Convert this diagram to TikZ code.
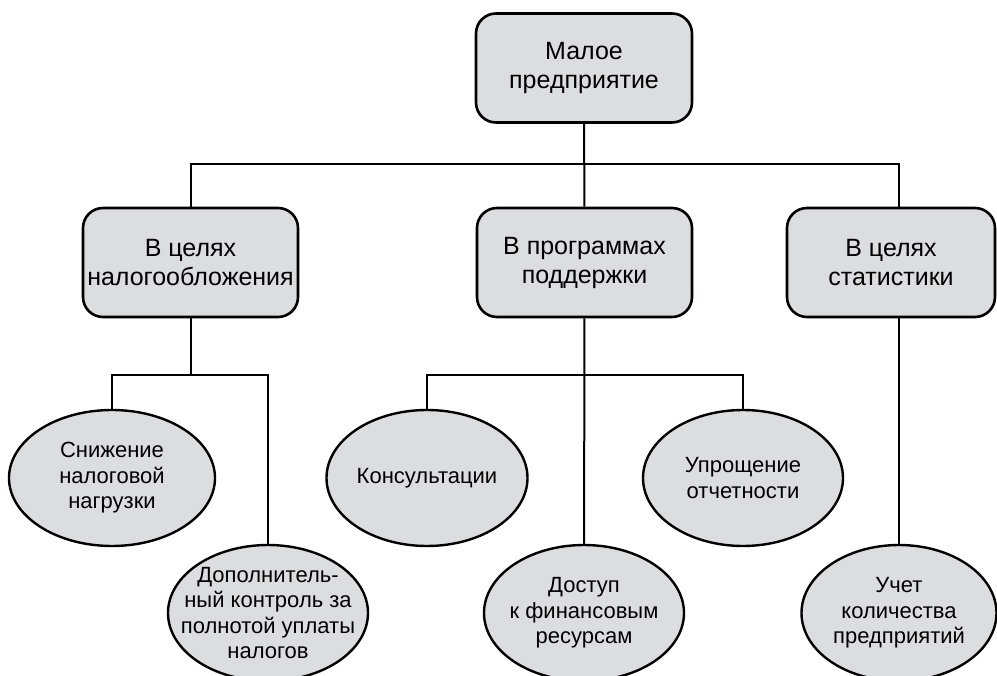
\documentclass[tikz,border=0pt]{standalone}
\usepackage{fontspec}
\setmainfont{Liberation Sans}
\usetikzlibrary{shapes.geometric}
\definecolor{boxgray}{RGB}{220,221,222}
\tikzset{
  box/.style={draw, line width=2.6pt, fill=boxgray, rounded corners=20pt, align=center,
    minimum height=109pt, font=\fontsize{25}{29}\selectfont},
  oval/.style={draw, ellipse, line width=2.4pt, fill=boxgray, align=center, inner sep=-25pt,
    minimum height=136pt, font=\fontsize{22}{25.5}\selectfont},
  link/.style={line width=2pt}
}

\begin{document}
\begin{tikzpicture}[x=1pt,y=-1pt]
\useasboundingbox (0,0) rectangle (997,676);
\clip (0,0) rectangle (997,676);
\node[box, minimum width=216pt] (firm) at (584,68) {Малое\\предприятие};
  \node[box, minimum width=215pt] (tax)  at (190.5,262.5) {В целях\\налогообложения};
  \node[box, minimum width=215pt] (supp) at (584.5,262.5) {В программах\\поддержки};
  \node[box, minimum width=208pt] (stat) at (891,262.5) {В целях\\статистики};
  \node[oval, minimum width=206pt] (load) at (112,478) {Снижение\\налоговой\\нагрузки};
  \node[oval, minimum width=200pt] (ctrl) at (268,613) {Дополнитель-\\ный контроль за\\полнотой уплаты\\налогов};
  \node[oval, minimum width=201pt] (cons) at (427,478) {Консультации};
  \node[oval, minimum width=200pt] (fin)  at (584,613) {Доступ\\к финансовым\\ресурсам};
  \node[oval, minimum width=200pt] (rep)  at (743,478) {Упрощение\\отчетности};
  \node[oval, minimum width=195pt] (cnt)  at (899,613) {Учет\\количества\\предприятий};
  \coordinate (bus) at (584,164);
  \coordinate (taxbus) at (190.5,375);
  \coordinate (suppbus) at (584,375);
  \draw[link] (firm) -- (supp);
  \draw[link] (tax.north) |- (cnt |- bus) -- (cnt |- stat.north);
  \draw[link] (tax) -- (taxbus);
  \draw[link] (load.north) |- (ctrl |- taxbus) -- (ctrl.north);
  \draw[link] (supp) -- (fin);
  \draw[link] (cons.north) |- (rep |- suppbus) -- (rep.north);
  \draw[link] (stat.south -| cnt) -- (cnt.north);
 \end{tikzpicture}
\end{document}
